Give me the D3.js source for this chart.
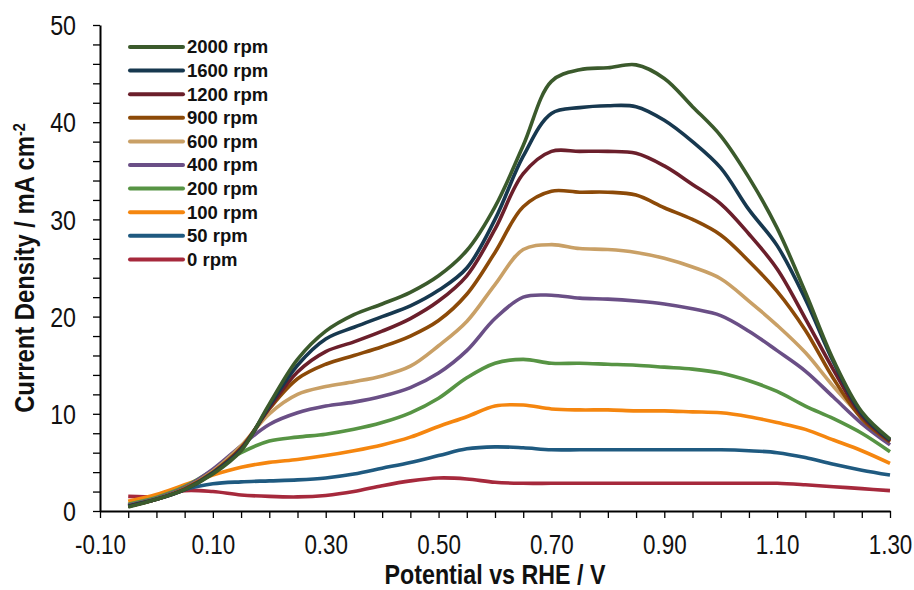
<!DOCTYPE html>
<html>
<head>
<meta charset="utf-8">
<script src="https://cdn.jsdelivr.net/npm/d3@7"></script>
<style>
  body { margin: 0; background: #fff; }
  svg { display: block; }
  .tick text { font-family: "Liberation Sans", Arial, sans-serif; font-size: 27px; fill: #111; }
  .axis-title { font-family: "Liberation Sans", Arial, sans-serif; font-size: 28px; font-weight: bold; fill: #111; }
  .legend text { font-family: "Liberation Sans", Arial, sans-serif; font-size: 18.5px; font-weight: bold; fill: #111; }
</style>
</head>
<body>
<svg id="chart"></svg>
<script>
// potential grid (V vs RHE)
const potential = [-0.05, 0.00, 0.05, 0.10, 0.15, 0.20, 0.25, 0.30, 0.35, 0.40, 0.45, 0.50, 0.55, 0.60,
                   0.65, 0.70, 0.75, 0.80, 0.85, 0.90, 0.95, 1.00, 1.05, 1.10, 1.15, 1.20, 1.25, 1.30];

// current density (mA cm-2), one list per rotation rate
const rpm0    = [1.5, 1.5, 2.1, 2.0, 1.65, 1.5, 1.45, 1.6, 2.0, 2.6, 3.1, 3.4, 3.3, 2.95,
                 2.85, 2.85, 2.85, 2.85, 2.85, 2.85, 2.85, 2.85, 2.85, 2.85, 2.7, 2.5, 2.3, 2.1];
const rpm50   = [0.6, 1.3, 2.2, 2.8, 3.0, 3.1, 3.2, 3.4, 3.8, 4.4, 5.0, 5.7, 6.4, 6.6,
                 6.5, 6.3, 6.3, 6.3, 6.3, 6.3, 6.3, 6.3, 6.2, 6.0, 5.5, 4.8, 4.2, 3.7];
const rpm100  = [1.0, 1.7, 2.7, 3.7, 4.5, 5.0, 5.3, 5.7, 6.2, 6.8, 7.6, 8.7, 9.7, 10.8,
                 10.9, 10.5, 10.4, 10.4, 10.3, 10.3, 10.2, 10.1, 9.7, 9.1, 8.4, 7.3, 6.2, 4.9];
const rpm200  = [0.7, 1.4, 2.5, 4.2, 6.0, 7.2, 7.6, 7.9, 8.4, 9.1, 10.1, 11.6, 13.7, 15.2,
                 15.6, 15.2, 15.2, 15.1, 15.0, 14.8, 14.6, 14.2, 13.4, 12.3, 10.8, 9.5, 8.0, 6.1];
const rpm400  = [0.6, 1.3, 2.4, 4.3, 6.7, 8.9, 10.1, 10.8, 11.2, 11.8, 12.7, 14.2, 16.5, 19.8,
                 22.0, 22.2, 21.9, 21.8, 21.6, 21.3, 20.8, 20.1, 18.5, 16.5, 14.4, 11.7, 9.0, 6.8];
const rpm600  = [0.5, 1.2, 2.3, 4.1, 6.7, 10.0, 12.0, 12.8, 13.3, 13.9, 14.9, 17.0, 19.5, 23.3,
                 26.9, 27.4, 27.0, 26.9, 26.6, 26.0, 25.1, 23.9, 21.6, 19.1, 16.3, 12.8, 9.7, 7.3];
const rpm900  = [0.5, 1.2, 2.3, 4.0, 6.5, 10.5, 13.6, 15.1, 16.0, 16.9, 18.0, 19.6, 22.3, 26.6,
                 31.3, 32.9, 32.8, 32.8, 32.5, 31.2, 30.0, 28.4, 25.7, 22.6, 18.6, 13.6, 9.5, 7.1];
const rpm1200 = [0.5, 1.2, 2.2, 3.9, 6.4, 10.6, 14.3, 16.4, 17.4, 18.5, 19.8, 21.6, 24.2, 29.0,
                 34.7, 37.0, 37.0, 37.0, 36.8, 35.5, 33.6, 31.6, 28.5, 24.9, 19.8, 14.5, 9.8, 7.2];
const rpm1600 = [0.5, 1.2, 2.2, 3.9, 6.3, 10.8, 15.0, 17.7, 18.9, 20.0, 21.1, 22.7, 25.0, 30.0,
                 36.5, 40.9, 41.5, 41.7, 41.6, 40.2, 38.0, 35.3, 31.0, 27.3, 21.8, 15.3, 10.0, 7.3];
const rpm2000 = [0.4, 1.2, 2.2, 3.8, 6.2, 11.0, 15.6, 18.5, 20.2, 21.3, 22.5, 24.2, 26.8, 31.3,
                 37.6, 44.2, 45.4, 45.6, 45.9, 44.5, 41.6, 38.6, 34.3, 29.1, 22.5, 15.5, 10.2, 7.4];

// legend order is top-down
const seriesNames  = ["2000 rpm", "1600 rpm", "1200 rpm", "900 rpm", "600 rpm",
                      "400 rpm", "200 rpm", "100 rpm", "50 rpm", "0 rpm"];
const seriesValues = [rpm2000, rpm1600, rpm1200, rpm900, rpm600, rpm400, rpm200, rpm100, rpm50, rpm0];
const seriesColors = ["#3b5a2c", "#17384f", "#6b1f2b", "#8c4a08", "#c9a066",
                      "#6a4f86", "#579444", "#f5860f", "#1f5a80", "#a6293c"];

const xTickLabels = [-0.10, 0.10, 0.30, 0.50, 0.70, 0.90, 1.10, 1.30];
const yTickLabels = [0, 10, 20, 30, 40, 50];

const width = 914, height = 590;
const margin = { top: 25, right: 24, bottom: 79, left: 100 };
const innerW = width - margin.left - margin.right;
const innerH = height - margin.top - margin.bottom;

const svg = d3.select("#chart").attr("width", width).attr("height", height);
const g = svg.append("g").attr("transform", `translate(${margin.left},${margin.top})`);

const xScale = d3.scaleLinear().domain([-0.1, 1.3]).range([0, innerW]);
const yScale = d3.scaleLinear().domain([0, 50]).range([innerH, 0]);

const xTicks = d3.range(0, 29).map(i => -0.1 + i * 0.05);
const yTicks = d3.range(0, 26).map(i => i * 2);
const isLabel = (v, list) => list.some(l => Math.abs(l - v) < 1e-6);
const fmt2 = v => (v < 0 ? "-" : "") + d3.format(".2f")(Math.abs(v));

// the original uses a condensed face; squeeze the installed one to match
function condense(sel, factor) {
    sel.each(function () {
        const len = this.getComputedTextLength();
        if (len > 0) d3.select(this).attr("textLength", len * factor).attr("lengthAdjust", "spacingAndGlyphs");
    });
}

// series, lowest rate first so fast rates sit on top
const line = d3.line()
    .x((d, i) => xScale(potential[i]))
    .y(d => yScale(d))
    .curve(d3.curveCatmullRom.alpha(0.5));

const order = d3.range(seriesNames.length).reverse();
g.append("g")
    .selectAll("path")
    .data(order)
    .join("path")
    .attr("fill", "none")
    .attr("stroke", i => seriesColors[i])
    .attr("stroke-width", 3.6)
    .attr("stroke-linejoin", "round")
    .attr("d", i => line(seriesValues[i]));

// axes
const xAxis = g.append("g")
    .attr("transform", `translate(0,${innerH})`)
    .call(d3.axisBottom(xScale)
        .tickValues(xTicks)
        .tickSize(7)
        .tickSizeOuter(0)
        .tickPadding(12)
        .tickFormat(v => isLabel(v, xTickLabels) ? fmt2(v) : ""));

const yAxis = g.append("g")
    .call(d3.axisLeft(yScale)
        .tickValues(yTicks)
        .tickSize(7)
        .tickSizeOuter(0)
        .tickPadding(17)
        .tickFormat(v => isLabel(v, yTickLabels) ? v : ""));

[xAxis, yAxis].forEach(a => {
    a.select(".domain").attr("stroke", "#000").attr("stroke-width", 2);
    a.selectAll(".tick line").attr("stroke", "#000").attr("stroke-width", 1.3);
});
xAxis.selectAll(".tick text").attr("dy", "0.9em");
yAxis.selectAll(".tick text").attr("dy", "0.36em");
condense(xAxis.selectAll(".tick text"), 0.83);
condense(yAxis.selectAll(".tick text"), 0.86);

// axis titles
const xTitle = svg.append("text")
    .attr("class", "axis-title")
    .attr("x", margin.left + innerW / 2)
    .attr("y", 584)
    .attr("text-anchor", "middle")
    .text("Potential vs RHE / V");
condense(xTitle, 0.83);

const yTitle = svg.append("text")
    .attr("class", "axis-title")
    .attr("transform", `translate(34,${margin.top + innerH / 2}) rotate(-90)`)
    .attr("text-anchor", "middle");
yTitle.append("tspan").text("Current Density / mA cm");
yTitle.append("tspan").attr("baseline-shift", "super").style("font-size", "17px").text("-2");
condense(yTitle, 0.85);

// legend
const legend = svg.append("g").attr("class", "legend").attr("transform", "translate(130,47)");
const rows = legend.selectAll("g")
    .data(seriesNames)
    .join("g")
    .attr("transform", (d, i) => `translate(0,${i * 23.6})`);
rows.append("line")
    .attr("x1", 0).attr("x2", 53)
    .attr("stroke", (d, i) => seriesColors[i])
    .attr("stroke-width", 4)
    .attr("stroke-linecap", "round");
rows.append("text")
    .attr("x", 57)
    .attr("dy", "0.35em")
    .text(d => d);
</script>
</body>
</html>
